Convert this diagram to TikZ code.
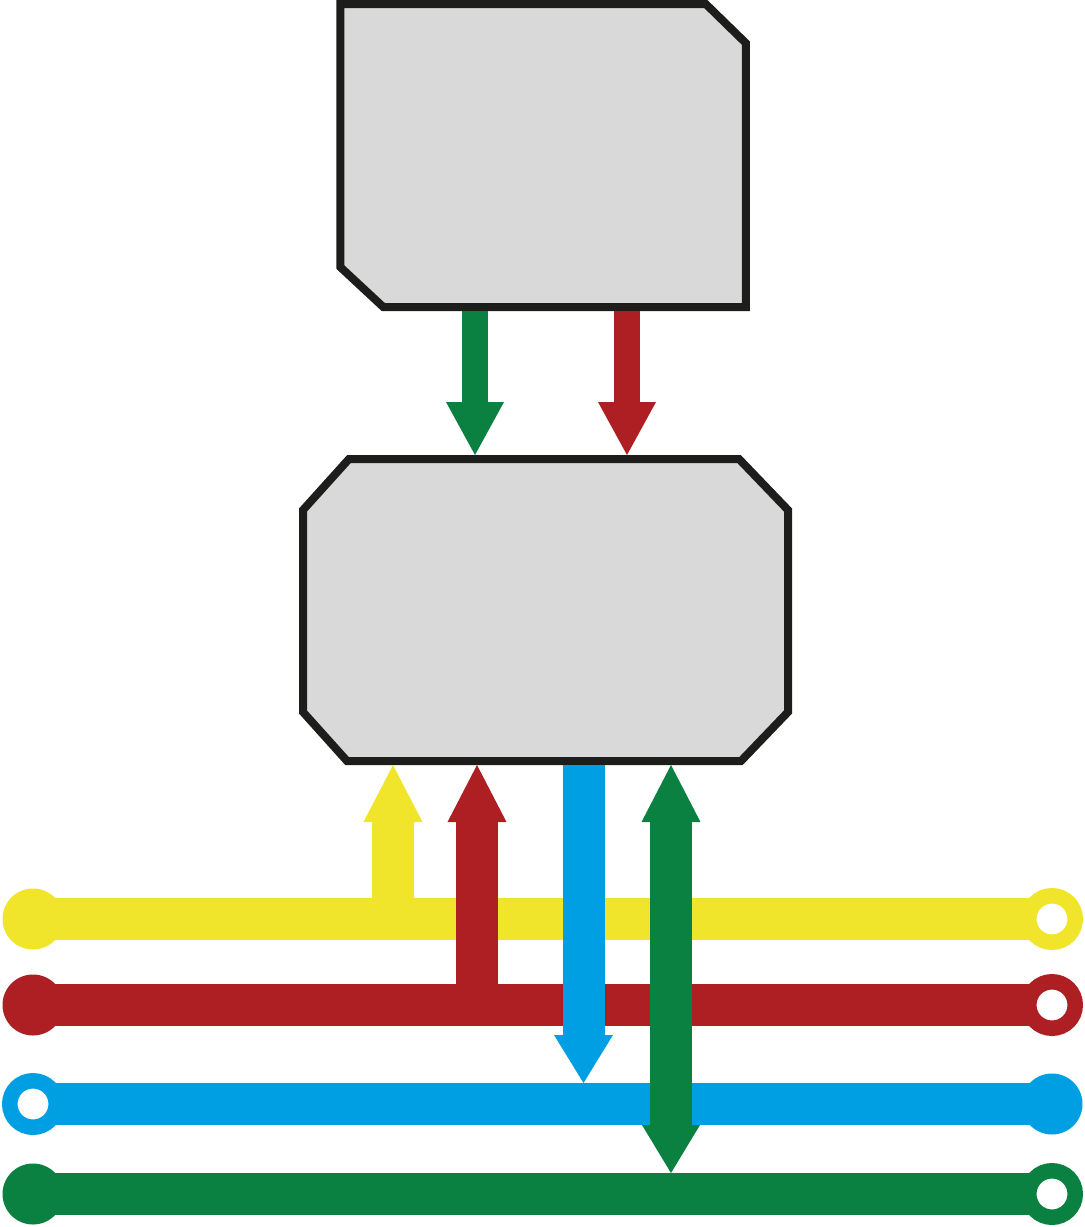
\documentclass[tikz,border=0pt]{standalone}
\usetikzlibrary{arrows.meta}

\definecolor{busyellow}{HTML}{F0E52A}
\definecolor{busred}{HTML}{AE1F24}
\definecolor{busblue}{HTML}{009FE3}
\definecolor{busgreen}{HTML}{0A8041}
\definecolor{unitgray}{HTML}{D9D9D9}
\definecolor{unitline}{HTML}{1D1D1B}

\begin{document}
\begin{tikzpicture}[x=1pt, y=-1pt,
  unit/.style={rectangle, inner sep=0pt, outer sep=0pt},
  frame/.style={draw=unitline, fill=unitgray, line width=8pt},
  bus/.style={line width=42pt},
  endfull/.style={circle, inner sep=0pt, minimum size=61pt, fill=#1},
  endring/.style={circle, inner sep=0pt, minimum size=46.5pt, line width=15.5pt, draw=#1, fill=white},
  feed/.style={line width=26pt, shorten <=4pt, shorten >=4pt,
    -{Triangle[width=58pt, length=53pt, line width=0pt]}},
  upflow/.style={line width=42pt, shorten >=4pt,
    -{Triangle[width=59pt, length=57pt, line width=0pt]}},
  downflow/.style={line width=42pt, shorten <=4pt, shorten >=21pt,
    -{Triangle[width=59pt, length=48pt, line width=0pt]}}
]
\useasboundingbox (0,0) rectangle (1085,1227);

% the two units
\node[unit, minimum width=405.5pt, minimum height=303pt] (host) at (543,155.5) {};
\node[unit, minimum width=485pt, minimum height=302pt] (ctrl) at (545.5,610) {};
\draw[frame] (host.north west) -- ([xshift=-40pt]host.north east)
  -- ([yshift=-39pt]host.north east) -- (host.south east)
  -- ([xshift=43pt]host.south west) -- ([yshift=40pt]host.south west) -- cycle;
\draw[frame] ([xshift=46pt]ctrl.north west) -- ([xshift=-49pt]ctrl.north east)
  -- ([yshift=-51pt]ctrl.north east) -- ([yshift=49pt]ctrl.south east)
  -- ([xshift=-47pt]ctrl.south east) -- ([xshift=44pt]ctrl.south west)
  -- ([yshift=49pt]ctrl.south west) -- ([yshift=-51pt]ctrl.north west) -- cycle;

% the four buses
\foreach \c/\y/\l/\r in {busyellow/919/endfull/endring, busred/1005/endfull/endring,
                         busblue/1104/endring/endfull, busgreen/1194/endfull/endring}{
  \coordinate (\c-l) at (33,\y);
  \coordinate (\c-r) at (1052,\y);
  \draw[bus, \c] (\c-l) -- (\c-r);
  \node[\l=\c] (\c-lend) at (\c-l) {};
  \node[\r=\c] (\c-rend) at (\c-r) {};
}

% taps
\coordinate (hg) at (475,0);
\coordinate (hr) at (627,0);
\coordinate (cy) at (393,0);
\coordinate (cr) at (477,0);
\coordinate (cb) at (583.5,0);
\coordinate (cg) at (671,0);

\draw[feed, busgreen] (host.south -| hg) -- (ctrl.north -| hg);
\draw[feed, busred] (host.south -| hr) -- (ctrl.north -| hr);

\draw[upflow, busyellow] (busyellow-l -| cy) -- (ctrl.south -| cy);
\draw[upflow, busred] (busred-l -| cr) -- (ctrl.south -| cr);
\draw[downflow, busblue] (ctrl.south -| cb) -- (busblue-l -| cb);
\draw[downflow, busgreen,
  {Triangle[width=59pt, length=57pt, line width=0pt]}-{Triangle[width=58pt, length=48pt, line width=0pt]}]
  (ctrl.south -| cg) -- (busgreen-l -| cg);
\end{tikzpicture}
\end{document}
